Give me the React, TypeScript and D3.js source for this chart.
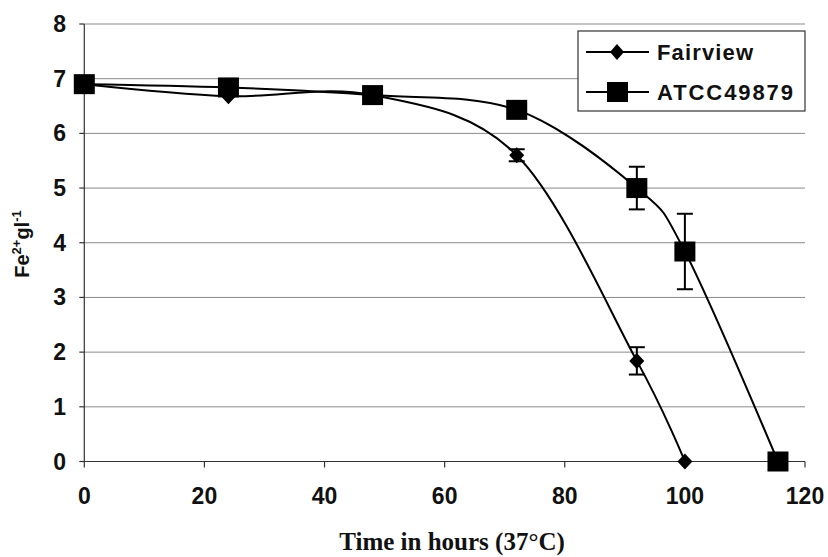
import React from "react";
import * as d3 from "d3";

const W = 828;
const H = 557;

const fairviewHours = [0, 24, 48, 72, 92, 100];
const fairviewValues = [6.9, 6.68, 6.7, 5.6, 1.84, 0];
const fairviewErrors = [0, 0, 0, 0.11, 0.25, 0];

const atccHours = [0, 24, 48, 72, 92, 100, 115.5];
const atccValues = [6.9, 6.84, 6.7, 6.43, 5.0, 3.84, 0];
const atccErrors = [0, 0, 0, 0, 0.39, 0.69, 0];

const xTicks = [0, 20, 40, 60, 80, 100, 120];
const yTicks = [0, 1, 2, 3, 4, 5, 6, 7, 8];

const seriesNames = ["Fairview", "ATCC49879"];

export default function App() {
  const left = 84.3;
  const right = 805;
  const top = 24;
  const bottom = 461.5;
  const x = d3.scaleLinear().domain([0, 120]).range([left, right]);
  const y = d3.scaleLinear().domain([0, 8]).range([bottom, top]);

  const line = d3
    .line<[number, number]>()
    .x((d) => x(d[0]))
    .y((d) => y(d[1]))
    .curve(d3.curveCardinal.tension(0));

  const fv: [number, number][] = fairviewHours.map((h, i) => [h, fairviewValues[i]]);
  const at: [number, number][] = atccHours.map((h, i) => [h, atccValues[i]]);

  const sans = "'Liberation Sans', Arial, sans-serif";
  const diamond = (cx: number, cy: number, w = 7.5, h = 8) =>
    `M${cx},${cy - h}L${cx + w},${cy}L${cx},${cy + h}L${cx - w},${cy}Z`;

  const errBars = (hours: number[], vals: number[], errs: number[], key: string) =>
    hours.map((h, i) =>
      errs[i] > 0 ? (
        <g key={key + i} stroke="#000" strokeWidth={2}>
          <line x1={x(h)} x2={x(h)} y1={y(vals[i] + errs[i])} y2={y(vals[i] - errs[i])} />
          <line x1={x(h) - 8} x2={x(h) + 8} y1={y(vals[i] + errs[i])} y2={y(vals[i] + errs[i])} />
          <line x1={x(h) - 8} x2={x(h) + 8} y1={y(vals[i] - errs[i])} y2={y(vals[i] - errs[i])} />
        </g>
      ) : null
    );

  return (
    <svg
      width={W}
      height={H}
      style={{ position: "absolute", left: 0, top: 0, background: "#fff" }}
    >
      <rect width={W} height={H} fill="#fff" />
      {/* gridlines */}
      {yTicks.map((t) => (
        <line key={"g" + t} x1={left} x2={right} y1={y(t)} y2={y(t)} stroke="#8a8a8a" strokeWidth={1} />
      ))}
      {/* y axis */}
      <line x1={left} x2={left} y1={top} y2={bottom} stroke="#333" strokeWidth={1.2} />
      {yTicks.map((t) => (
        <g key={"yt" + t}>
          <line x1={left - 5} x2={left} y1={y(t)} y2={y(t)} stroke="#333" strokeWidth={1.2} />
          <text
            x={66}
            y={y(t) + 8}
            textAnchor="end"
            fontFamily={sans}
            fontWeight="bold"
            fontSize={23}
            fill="#111"
          >
            {t}
          </text>
        </g>
      ))}
      {/* x axis */}
      <line x1={left} x2={right} y1={bottom} y2={bottom} stroke="#333" strokeWidth={1.2} />
      {xTicks.map((t) => (
        <g key={"xt" + t}>
          <line x1={x(t)} x2={x(t)} y1={bottom} y2={bottom + 6} stroke="#333" strokeWidth={1.2} />
          <text
            x={x(t)}
            y={504}
            textAnchor="middle"
            fontFamily={sans}
            fontWeight="bold"
            fontSize={23}
            fill="#111"
          >
            {t}
          </text>
        </g>
      ))}
      {/* titles */}
      <text
        x={452}
        y={550}
        textAnchor="middle"
        fontFamily="'Liberation Serif', 'Times New Roman', serif"
        fontWeight="bold"
        fontSize={25}
        fill="#111"
      >
        Time in hours (37°C)
      </text>
      <text
        transform={`translate(29,244) rotate(-90)`}
        textAnchor="middle"
        fontFamily={sans}
        fontWeight="bold"
        fontSize={20}
        fill="#111"
      >
        Fe<tspan dy={-8} fontSize={13}>2+</tspan>
        <tspan dy={8}>gl</tspan>
        <tspan dy={-8} fontSize={13}>-1</tspan>
      </text>

      {/* Fairview */}
      <path d={line(fv) || ""} fill="none" stroke="#000" strokeWidth={2} />
      {errBars(fairviewHours, fairviewValues, fairviewErrors, "fe")}
      {fv.map((d, i) => (
        <path key={"fm" + i} d={diamond(x(d[0]), y(d[1]))} fill="#000" />
      ))}

      {/* ATCC */}
      <path d={line(at) || ""} fill="none" stroke="#000" strokeWidth={2} />
      {errBars(atccHours, atccValues, atccErrors, "ae")}
      {at.map((d, i) => (
        <rect key={"am" + i} x={x(d[0]) - 10.5} y={y(d[1]) - 10} width={21} height={20} fill="#000" />
      ))}

      {/* legend */}
      <rect x={578} y={31} width={227} height={80} fill="#fff" stroke="#333" strokeWidth={1.2} />
      <line x1={586} x2={649} y1={52} y2={52} stroke="#000" strokeWidth={2} />
      <path d={diamond(617, 52, 7, 8)} fill="#000" />
      <text
        x={657}
        y={60}
        fontFamily={sans}
        fontWeight="bold"
        fontSize={22}
        textLength={96}
        lengthAdjust="spacing"
        fill="#111"
      >
        {seriesNames[0]}
      </text>
      <line x1={586} x2={649} y1={92} y2={92} stroke="#000" strokeWidth={2} />
      <rect x={607} y={82} width={21} height={20} fill="#000" />
      <text
        x={657}
        y={100}
        fontFamily={sans}
        fontWeight="bold"
        fontSize={22}
        textLength={136}
        lengthAdjust="spacing"
        fill="#111"
      >
        {seriesNames[1]}
      </text>
    </svg>
  );
}
